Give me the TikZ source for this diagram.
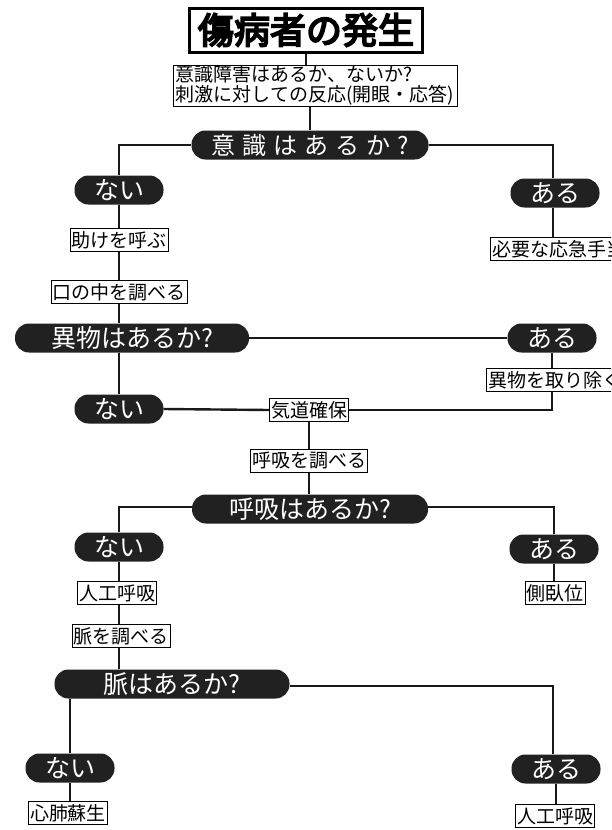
\documentclass[tikz,border=0pt]{standalone}
\usepackage{fontspec}
\newfontfamily\jp{Noto Sans CJK JP}
\newfontfamily\jpb[FakeBold=5]{Noto Sans CJK JP}
\newcommand{\lsp}{\hspace{7pt}}
\tikzset{
  conn/.style={line width=2.4pt, black!90},
  pill/.style={fill=black!87, text=white, rounded corners=14pt, minimum height=29pt,
    inner sep=0pt, font=\jp\fontsize{25}{25}\selectfont},
  yn/.style={pill, minimum width=89pt},
  box/.style={draw, line width=1pt, fill=white, inner xsep=1.5pt, inner ysep=1pt,
    minimum height=23pt, font=\jp\fontsize{19}{20}\selectfont},
  titlebox/.style={draw, line width=3pt, fill=white, minimum width=233pt, minimum height=44pt,
    inner sep=0pt, font=\jpb\fontsize{36}{36}\selectfont}
}
\begin{document}
\begin{tikzpicture}[x=1pt,y=-1pt]
\useasboundingbox (0,0) rectangle (611,830);
\fill[white] (0,0) rectangle (611,830);
\clip (0,0) rectangle (611,830);
% nodes
\node[titlebox] (t) at (306,30) {傷病者の発生};
\node[box, align=left, minimum width=284pt, minimum height=41pt, inner ysep=0pt] (b2) at (315,85.5)
  {意識障害はあるか、ないか?\\刺激に対しての反応(開眼・応答)};
\node[pill, minimum width=237pt, font=\jp\fontsize{24}{24}\selectfont] (p1) at (310,145)
  {意\lsp 識\lsp は\lsp あ\lsp る\lsp か\lsp ?};
\node[yn] (n1) at (119,190) {ない};
\node[yn] (a1) at (555,193) {ある};
\node[box] (help) at (119,240) {助けを呼ぶ};
\node[box, anchor=west] (first) at (490,249) {必要な応急手当};
\node[box] (mouth) at (119,292) {口の中を調べる};
\node[pill, minimum width=234pt] (p2) at (132,338) {異物はあるか?};
\node[yn] (a2) at (552,338) {ある};
\node[box, anchor=west] (rm) at (486,380) {異物を取り除く};
\node[yn] (n2) at (119,409) {ない};
\node[box] (air) at (309,410) {気道確保};
\node[box] (br) at (309,461) {呼吸を調べる};
\node[pill, minimum width=236pt] (p3) at (310,509) {呼吸はあるか?};
\node[yn] (n3) at (119,547) {ない};
\node[yn] (a3) at (554,549) {ある};
\node[box] (ai1) at (117,593) {人工呼吸};
\node[box] (side) at (555,593) {側臥位};
\node[box] (pulse) at (121,636) {脈を調べる};
\node[pill, minimum width=235pt] (p4) at (172,684) {脈はあるか?};
\node[yn] (n4) at (70,768) {ない};
\node[yn] (a4) at (556,769) {ある};
\node[box] (cpr) at (68,813) {心肺蘇生};
\node[box] (ai2) at (555,816) {人工呼吸};
% connectors
\draw[conn] (t.south) -- (t.south |- b2.north);
\draw[conn] (p1.north) -- (p1.north |- b2.south);
\draw[conn] (p1.west) -| (n1.north);
\draw[conn] (p1.east) -| ([xshift=-2pt]a1.north);
\draw[conn] (n1.south) -- (help.north);
\draw[conn] ([xshift=-2pt]a1.south) -- ([xshift=-2pt]a1.south |- first.north);
\draw[conn] (help.south) -- (mouth.north);
\draw[conn] (mouth.south) -- (mouth.south |- p2.north);
\draw[conn] (p2.east) -- (a2.west);
\draw[conn] (n2.north) -- (n2.north |- p2.south);
\draw[conn] (a2.south) -- (a2.south |- rm.north);
\draw[conn] (a2.south |- rm.south) |- (air.east);
\draw[conn] (n2.east) -- (air.west);
\draw[conn] (air.south) -- (br.north);
\draw[conn] (br.south) -- (br.south |- p3.north);
\draw[conn] ([yshift=2pt]p3.west) -| (n3.north);
\draw[conn] ([yshift=2pt]p3.east) -| (a3.north);
\draw[conn] (n3.south) -- (n3.south |- ai1.north);
\draw[conn] (n3.south |- ai1.south) -- (n3.south |- pulse.north);
\draw[conn] (n3.south |- pulse.south) -- (n3.south |- p4.north);
\draw[conn] (a3.south) -- (a3.south |- side.north);
\draw[conn] ([yshift=-2pt]p4.east) -| ([xshift=-3pt]a4.north);
\draw[conn] (n4.north |- p4.south) -- (n4.north);
\draw[conn] (n4.south) -- (n4.south |- cpr.north);
\draw[conn] (a4.south) -- (a4.south |- ai2.north);
\end{tikzpicture}
\end{document}
